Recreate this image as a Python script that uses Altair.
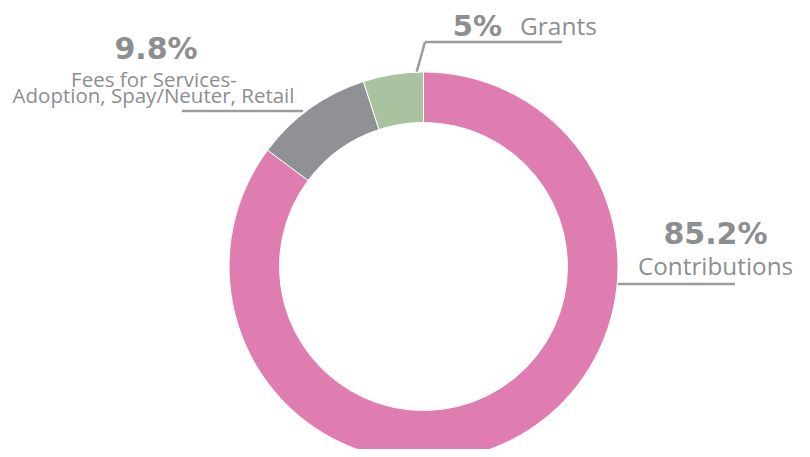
import altair as alt
import pandas as pd

categories = ["Contributions", "Fees for Services", "Grants"]
values = [85.2, 9.8, 5.0]
pct_labels = ["85.2%", "9.8%", "5%"]
colors = ["#DF7DB0", "#8F9194", "#A9C3A1"]

df = pd.DataFrame({
    "category": categories,
    "value": values,
    "pct": pct_labels,
    "idx": list(range(len(categories))),
})

TXT = "#8D8E90"
LINE = "#9A9B9D"
BOLD_FONT = "DejaVu Sans"
REG_FONT = "Open Sans"
CX, CY = 415.5, 258.5

base = alt.Chart(df)

donut = base.mark_arc(outerRadius=194.5, innerRadius=144, stroke="white", strokeWidth=1).encode(
    theta=alt.Theta("value:Q", stack=True),
    color=alt.Color("category:N", scale=alt.Scale(domain=categories, range=colors), legend=None),
    order=alt.Order("idx:Q"),
    x=alt.value(CX),
    y=alt.value(CY),
)


def big(cat, x, y, size, align):
    return base.transform_filter(alt.datum.category == cat).mark_text(
        font=BOLD_FONT, fontWeight="bold", fontSize=size, color=TXT, align=align, baseline="alphabetic"
    ).encode(text="pct:N", x=alt.value(x), y=alt.value(y))


def small(txt, x, y, size, align):
    return base.transform_filter(alt.datum.idx == 0).mark_text(
        font=REG_FONT, fontSize=size, color=TXT, align=align, baseline="alphabetic"
    ).encode(text=alt.value(txt), x=alt.value(x), y=alt.value(y))


def rule(x1, y1, x2, y2):
    return base.transform_filter(alt.datum.idx == 0).mark_rule(color=LINE, strokeWidth=2.5).encode(
        x=alt.value(x1), y=alt.value(y1), x2=alt.value(x2), y2=alt.value(y2)
    )


layers = [
    donut,
    rule(174, 103, 295, 103),
    rule(408.7, 63.7, 417, 34),
    rule(417, 34, 554, 34),
    rule(610, 276, 727, 276),
    big("Fees for Services", 148, 51, 30, "center"),
    small("Fees for Services-", 146, 78.5, 20.5, "center"),
    small("Adoption, Spay/Neuter, Retail", 145.5, 95, 20.5, "center"),
    big("Grants", 444.7, 27.5, 29, "left"),
    small("Grants", 512, 27, 24.5, "left"),
    big("Contributions", 707.5, 236, 30, "center"),
    small("Contributions", 707.5, 267, 24.3, "center"),
]

chart = alt.layer(*layers).properties(
    width=794, height=441, autosize=alt.AutoSizeParams(type="none"), padding=0
).configure_view(stroke=None)

chart.save("out.html", embed_options={"renderer": "svg", "actions": False})
